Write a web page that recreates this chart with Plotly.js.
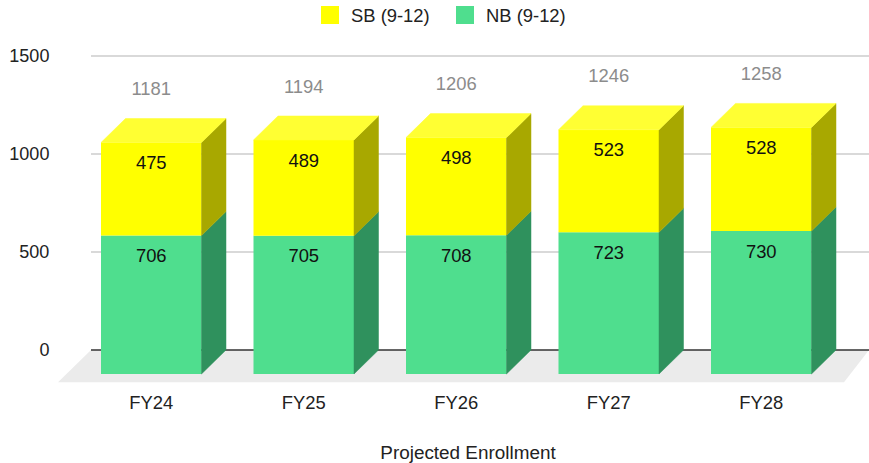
<!DOCTYPE html>
<html>
<head>
<meta charset="utf-8">
<script src="https://cdn.plot.ly/plotly-3.0.1.min.js"></script>
<style>html,body{margin:0;padding:0;background:#fff;overflow:hidden;width:869px;height:463px}</style>
</head>
<body>
<div id="chart"></div>
<script>
const categories = ["FY24", "FY25", "FY26", "FY27", "FY28"];
const nbValues = [706, 705, 708, 723, 730];
const sbValues = [475, 489, 498, 523, 528];
const totalValues = [1181, 1194, 1206, 1246, 1258];
const tickValues = [0, 500, 1000, 1500];

const FONT = '"Liberation Sans", Arial, sans-serif';
const FS = 18.4;
const GREEN = '#4fde8e', GREEN_SIDE = '#2f915d';
const YELLOW = '#ffff00', YELLOW_SIDE = '#a8a800', YELLOW_TOP = '#ffff33';

// 3D projection, in data units (152.5 px per category, 0.196 px per value)
const barW = 0.659;
const dx = 24.5 / 152.5;
const dy = 24 / 0.196;
const half = barW / 2;
const idx = categories.map((_, i) => i);
const nbTop = nbValues.map(v => v - dy);
const sbTop = nbValues.map((v, i) => v + sbValues[i] - dy);

function polys(list) {
  const x = [], y = [];
  list.forEach(p => {
    p.forEach(c => { x.push(c[0]); y.push(c[1]); });
    x.push(null); y.push(null);
  });
  return {x, y};
}
function face(list, color) {
  const p = polys(list);
  return {type: 'scatter', mode: 'lines', x: p.x, y: p.y, fill: 'toself', fillcolor: color,
    line: {width: 0.5, color: color}, showlegend: false, hoverinfo: 'skip'};
}
const sideNB = face(idx.map(i => [[i+half, -dy], [i+half+dx, 0], [i+half+dx, nbValues[i]], [i+half, nbTop[i]], [i+half, -dy]]), GREEN_SIDE);
const sideSB = face(idx.map(i => [[i+half, nbTop[i]], [i+half+dx, nbValues[i]], [i+half+dx, sbTop[i]+dy], [i+half, sbTop[i]], [i+half, nbTop[i]]]), YELLOW_SIDE);
const topSB = face(idx.map(i => [[i-half, sbTop[i]], [i+half, sbTop[i]], [i+half+dx, sbTop[i]+dy], [i-half+dx, sbTop[i]+dy], [i-half, sbTop[i]]]), YELLOW_TOP);

const barNB = {type: 'bar', x: idx, y: nbValues, base: nbValues.map(() => -dy), width: barW,
  marker: {color: GREEN, line: {width: 0}}, showlegend: false, hoverinfo: 'skip'};
const barSB = {type: 'bar', x: idx, y: sbValues, base: nbTop, width: barW,
  marker: {color: YELLOW, line: {width: 0}}, showlegend: false, hoverinfo: 'skip'};

const labelFont = {family: FONT, size: FS, color: '#111111'};
const labelNB = {type: 'scatter', mode: 'text', x: idx, y: nbTop.map(v => v - 22 / 0.196), text: nbValues.map(String),
  textposition: 'middle center', textfont: labelFont, showlegend: false, hoverinfo: 'skip'};
const labelSB = {type: 'scatter', mode: 'text', x: idx, y: sbTop.map(v => v - 22 / 0.196), text: sbValues.map(String),
  textposition: 'middle center', textfont: labelFont, showlegend: false, hoverinfo: 'skip'};
const labelTotal = {type: 'scatter', mode: 'text', x: idx, y: totalValues.map(v => v + 28 / 0.196), text: totalValues.map(String),
  textposition: 'middle center', textfont: {family: FONT, size: FS, color: '#8c8c8c'}, showlegend: false, hoverinfo: 'skip'};

function legendEntry(name, color) {
  return {type: 'scatter', mode: 'markers', x: [null], y: [null], name: name,
    marker: {symbol: 'square', size: 16, color: color, line: {width: 2, color: color}}, hoverinfo: 'skip'};
}

const traces = [barNB, barSB, sideNB, sideSB, topSB, labelNB, labelSB, labelTotal,
  legendEntry('SB (9-12)', YELLOW), legendEntry('NB (9-12)', GREEN)];

const pxL = 58, pxW = 820;
const xRange = [(pxL - 151.25) / 152.5, (pxL + pxW - 151.25) / 152.5];
const gridLeft = xRange[0] + 33 / 152.5;
const gridRight = (869 - 151.25) / 152.5;

const shapes = [];
shapes.push({type: 'path', layer: 'below', xref: 'x', yref: 'y',
  path: `M ${gridLeft} 0 L ${gridRight} 0 L ${gridRight - 25 / 152.5} ${-32.3 / 0.196} L ${xRange[0]} ${-32.3 / 0.196} Z`,
  fillcolor: '#ebebeb', line: {width: 0}});
tickValues.forEach(v => {
  shapes.push({type: 'line', layer: 'below', xref: 'x', yref: 'y', x0: gridLeft, x1: gridRight, y0: v, y1: v,
    line: {color: v === 0 ? '#333333' : '#cccccc', width: 1.3}});
});

const layout = {
  width: 878, height: 463,
  margin: {l: pxL, r: 0, t: 40, b: 73, pad: 0},
  paper_bgcolor: '#ffffff', plot_bgcolor: 'rgba(0,0,0,0)',
  font: {family: FONT, size: FS, color: '#222222'},
  barmode: 'overlay',
  showlegend: true,
  legend: {orientation: 'h', xref: 'container', yref: 'container', x: 309 / 878, xanchor: 'left',
    y: 1 - 15 / 463, yanchor: 'middle', bgcolor: 'rgba(0,0,0,0)', itemwidth: 32, entrywidth: 88, entrywidthmode: 'pixels',
    itemsizing: 'trace', font: {family: FONT, size: FS, color: '#222222'}, itemclick: false, itemdoubleclick: false},
  xaxis: {type: 'linear', range: xRange, tickmode: 'array', tickvals: idx, ticktext: categories,
    showgrid: false, zeroline: false, showline: false, ticks: '', automargin: false, fixedrange: true,
    tickfont: {family: FONT, size: FS, color: '#222222'},
    title: {text: 'Projected Enrollment', standoff: 34, font: {family: FONT, size: 18.9, color: '#222222'}}},
  yaxis: {type: 'linear', range: [-40 / 0.196, 310 / 0.196], tickmode: 'array', tickvals: tickValues,
    showgrid: false, zeroline: false, showline: false, ticks: 'outside', ticklen: 4, tickcolor: 'rgba(0,0,0,0)',
    automargin: false, fixedrange: true, tickfont: {family: FONT, size: 18, color: '#222222'}},
  shapes: shapes
};
Plotly.newPlot('chart', traces, layout, {displayModeBar: false, staticPlot: true});
</script>
</body>
</html>
